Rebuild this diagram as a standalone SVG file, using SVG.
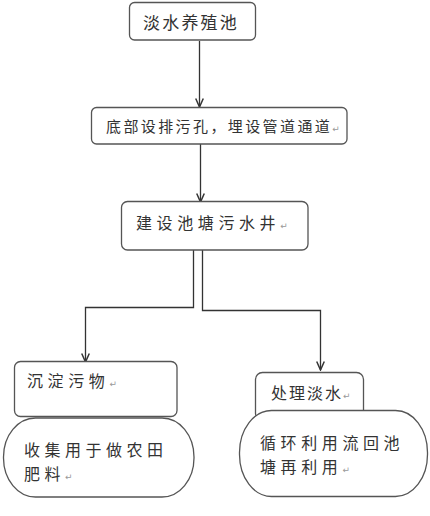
<svg xmlns="http://www.w3.org/2000/svg" width="430" height="516" viewBox="0 0 430 516">
<style>
.box{fill:#fff;stroke:#555;stroke-width:1.3}
.t{font-family:"Noto Sans CJK SC","Noto Sans",sans-serif;font-size:16px;fill:#333}
.r{font-family:"DejaVu Sans",sans-serif;font-size:9px;fill:#999;letter-spacing:0}
.c{fill:none;stroke:#333;stroke-width:1.3}
</style>
<defs>
<marker id="ah" markerUnits="userSpaceOnUse" markerWidth="10" markerHeight="10" viewBox="0 0 10 10" refX="9.5" refY="5" orient="auto">
<path d="M1,1.2 L9.5,5 L1,8.8" fill="none" stroke="#333" stroke-width="1.5"/>
</marker>
</defs>
<rect width="430" height="516" fill="#fff"/>
<g id="connectors">
<line class="c" x1="199.5" y1="41" x2="199.5" y2="107" marker-end="url(#ah)"/>
<line class="c" x1="200.5" y1="144" x2="200.5" y2="202" marker-end="url(#ah)"/>
<path class="c" d="M193.5,250 V307.5 H85.5 V362" marker-end="url(#ah)"/>
<path class="c" d="M202.5,250 V310.5 H320.5 V370" marker-end="url(#ah)"/>
</g>
<g id="n1">
<rect class="box" x="129.5" y="2.5" width="126" height="37.5" rx="5"/>
<text class="t" x="143" y="28.5" style="font-size:17px;letter-spacing:2.2px">淡水养殖池</text>
</g>
<g id="n2">
<rect class="box" x="91.5" y="107.5" width="255.5" height="36.5" rx="5"/>
<text class="t" x="106" y="132" style="font-size:15px;letter-spacing:2.4px">底部设排污孔，埋设管道通道<tspan class="r">↵</tspan></text>
</g>
<g id="n3">
<rect class="box" x="121.5" y="201.5" width="186.5" height="48.5" rx="6"/>
<text class="t" x="136" y="228.5" style="letter-spacing:4.6px">建设池塘污水井<tspan class="r">↵</tspan></text>
</g>
<g id="n4">
<rect class="box" x="14.5" y="361.5" width="162.5" height="55" rx="6"/>
<text class="t" x="27" y="387" style="letter-spacing:4.6px">沉淀污物<tspan class="r">↵</tspan></text>
</g>
<g id="n5">
<rect class="box" x="255.5" y="372.5" width="108" height="48" rx="7"/>
<text class="t" x="271" y="399" style="letter-spacing:2px">处理淡水<tspan class="r">↵</tspan></text>
</g>
<g id="n6">
<rect class="box" x="3.5" y="418" width="190.5" height="79" rx="32" ry="39"/>
<text class="t" x="24" y="456" style="letter-spacing:4.5px">收集用于做农田</text>
<text class="t" x="24" y="480" style="letter-spacing:4.5px">肥料<tspan class="r">↵</tspan></text>
</g>
<g id="n7">
<rect class="box" x="239.5" y="410.5" width="188" height="86" rx="32" ry="42"/>
<text class="t" x="260" y="449" style="letter-spacing:4.6px">循环利用流回池</text>
<text class="t" x="260" y="473" style="letter-spacing:4.6px">塘再利用<tspan class="r">↵</tspan></text>
</g>
</svg>
